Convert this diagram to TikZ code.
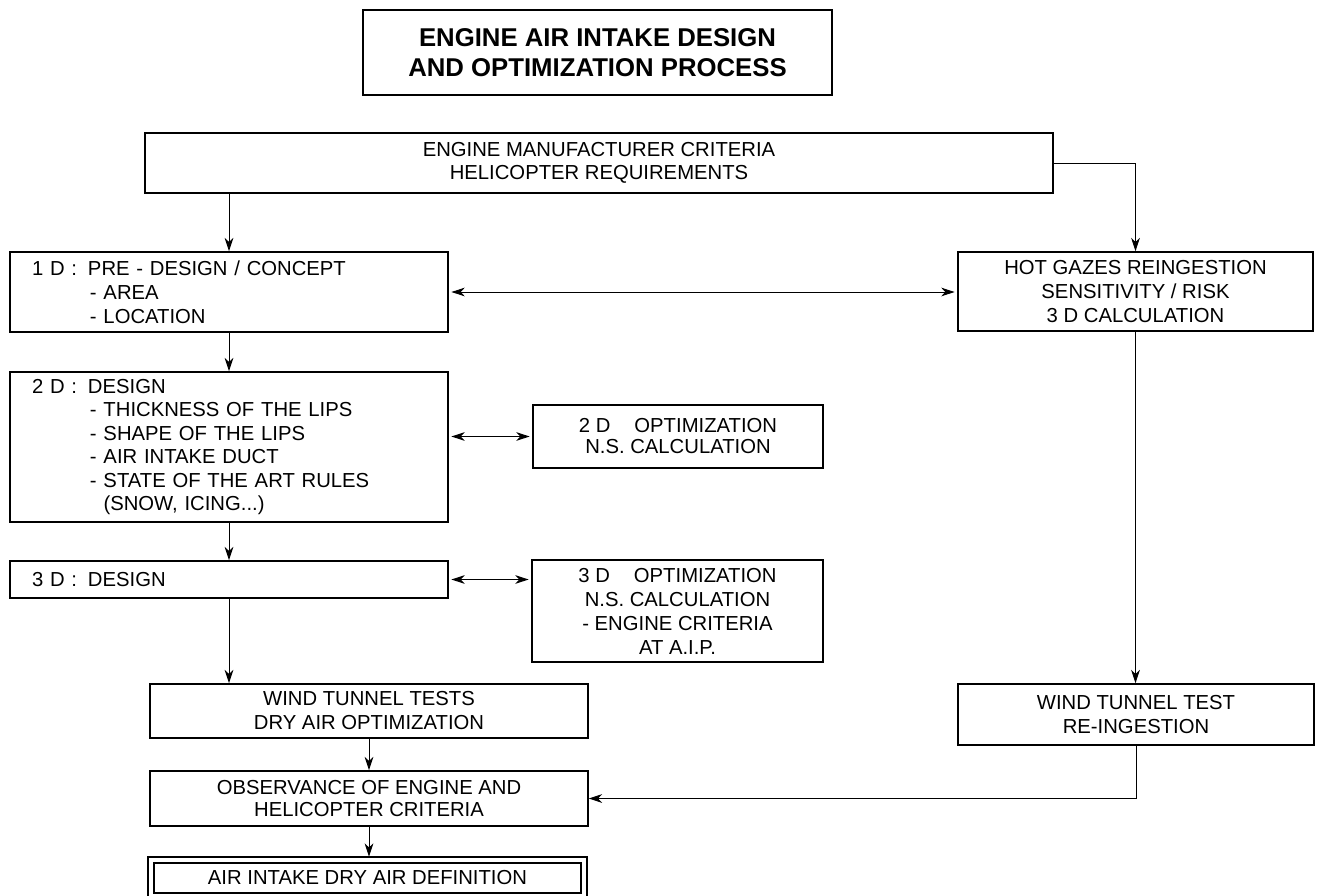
\documentclass[tikz,border=0pt]{standalone}
\usepackage{fontspec}
\setmainfont{Liberation Sans}
\usetikzlibrary{arrows.meta,calc}
\begin{document}
\begin{tikzpicture}[x=0.75pt,y=-0.75pt,
  box/.style={draw, line width=1.1pt, inner sep=0pt, align=center,
    font=\fontsize{15.2}{18}\selectfont},
  lbox/.style={box, align=left, inner xsep=16.5pt, text width=295.5pt},
  tip/.tip={Stealth[length=10pt,width=6.5pt,inset=3pt]},
  conn/.style={line width=0.75pt, -tip},
  dconn/.style={line width=0.75pt, tip-tip, shorten <=2pt, shorten >=2pt}]
\useasboundingbox (0,0) rectangle (1318,896);
\clip (0,0) rectangle (1318,896);

% title
\node[box, minimum width=351.75pt, minimum height=63.75pt,
      font=\fontsize{19.3}{22}\selectfont\bfseries] (title) at (597.5,52.5)
  {ENGINE AIR INTAKE DESIGN\\AND OPTIMIZATION PROCESS};

% criteria
\node[box, minimum width=681pt, minimum height=45pt,
      font=\fontsize{15.2}{17.25}\selectfont] (crit) at (599,163)
  {ENGINE MANUFACTURER CRITERIA\\HELICOPTER REQUIREMENTS};

% left column
\node[lbox, minimum width=328.5pt, minimum height=60pt] (d1) at (229,292)
  {\makebox[42pt][l]{1 D :}PRE - DESIGN / CONCEPT\\
   \hspace*{43.5pt}- AREA\\
   \hspace*{43.5pt}- LOCATION};

\node[lbox, minimum width=328.5pt, minimum height=112.5pt,
      font=\fontsize{15.2}{17.6}\selectfont] (d2) at (229,447)
  {\makebox[42pt][l]{2 D :}DESIGN\\
   \hspace*{43.5pt}- THICKNESS OF THE LIPS\\
   \hspace*{43.5pt}- SHAPE OF THE LIPS\\
   \hspace*{43.5pt}- AIR INTAKE DUCT\\
   \hspace*{43.5pt}- STATE OF THE ART RULES\\
   \hspace*{43.5pt}\phantom{- }(SNOW, ICING...)};

\node[lbox, minimum width=328.5pt, minimum height=27.75pt] (d3) at (229,579.5)
  {\makebox[42pt][l]{3 D :}DESIGN};

% optimization boxes
\node[box, minimum width=217.5pt, minimum height=47.25pt,
      font=\fontsize{15.2}{15.75}\selectfont] (opt2) at (678,436.5)
  {2 D\hspace{18pt}OPTIMIZATION\\N.S. CALCULATION};

\node[box, minimum width=218.25pt, minimum height=76.5pt] (opt3) at (677.5,611)
  {3 D\hspace{18pt}OPTIMIZATION\\N.S. CALCULATION\\- ENGINE CRITERIA\\AT A.I.P.};

% right column
\node[box, minimum width=266.25pt, minimum height=59.25pt] (hot) at (1135.5,291.5)
  {HOT GAZES REINGESTION\\SENSITIVITY / RISK\\3 D CALCULATION};

\node[box, minimum width=267pt, minimum height=45.75pt] (wtr) at (1136,714.5)
  {WIND TUNNEL TEST\\RE-INGESTION};

% lower column
\node[box, minimum width=328.5pt, minimum height=40.5pt] (wt) at (369,711)
  {WIND TUNNEL TESTS\\DRY AIR OPTIMIZATION};

\node[box, minimum width=328.5pt, minimum height=41.25pt,
      font=\fontsize{15.2}{16.5}\selectfont] (obs) at (369,798.5)
  {OBSERVANCE OF ENGINE AND\\HELICOPTER CRITERIA};

\node[box, line width=0.9pt, double, double distance=3.5pt,
      minimum width=324.75pt, minimum height=27pt] (fin) at (367.5,878)
  {AIR INTAKE DRY AIR DEFINITION};

% connectors
\draw[conn] (d1.north |- crit.south) -- (d1.north);
\draw[conn] (crit.east) -| (hot.north);
\draw[dconn] (d1.east) -- (d1.east -| hot.west);
\draw[conn] (d1.south) -- (d2.north);
\draw[dconn] (opt2.west -| d2.east) -- (opt2.west);
\draw[conn] (d2.south) -- (d3.north);
\draw[dconn] (d3.east) -- (d3.east -| opt3.west);
\draw[conn] (d3.south) -- (d3.south |- wt.north);
\draw[conn] (hot.south) -- (hot.south |- wtr.north);
\draw[conn] (wt.south) -- (obs.north);
\draw[conn] (wtr.south) |- (obs.east);
\draw[conn, shorten >=2pt] (obs.south) -- (obs.south |- fin.north);
\end{tikzpicture}
\end{document}
